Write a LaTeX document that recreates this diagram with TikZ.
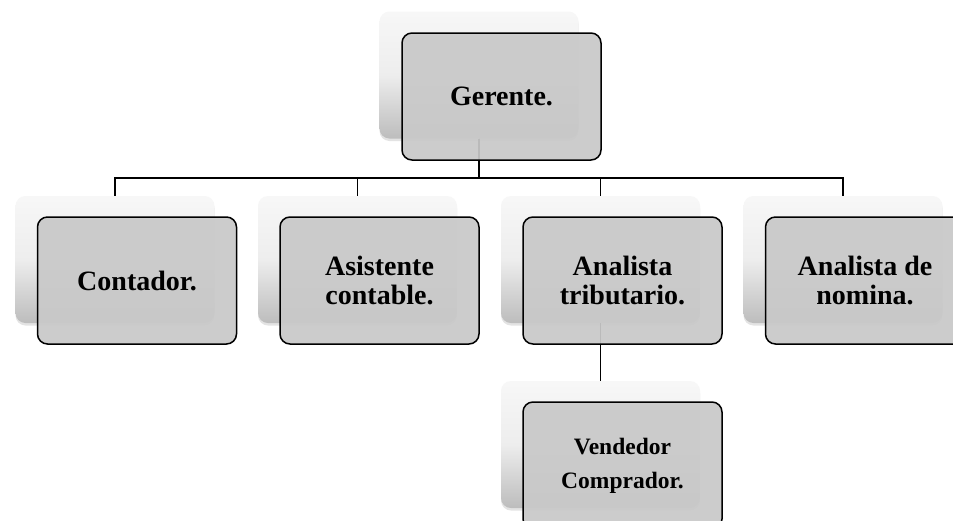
\documentclass[tikz,border=0pt]{standalone}
\usepackage{fontspec}
\setmainfont{Liberation Serif}
\usetikzlibrary{shadows}
\tikzset{
  backbox/.style={rectangle, rounded corners=10pt, minimum width=199pt, minimum height=127pt,
    inner sep=0pt, top color=black!3, bottom color=black!26, middle color=black!7,
    drop shadow={shadow xshift=0pt, shadow yshift=-2.5pt, opacity=0.22}},
  frontbox/.style={rectangle, rounded corners=10pt, minimum width=199pt, minimum height=127pt,
    inner sep=0pt, draw=black, line width=1.5pt, fill=black!21, fill opacity=0.93,
    draw opacity=1, text opacity=1, align=center, font=\fontsize{28}{29}\selectfont\bfseries},
  smalltext/.style={font=\fontsize{23.5}{34}\selectfont\bfseries},
  conn/.style={draw=black, line width=1.5pt}
}
\begin{document}
\begin{tikzpicture}[x=1pt, y=-1pt]
\useasboundingbox (0,0) rectangle (953,520);
\fill[white] (0,0) rectangle (953,520);
\coordinate (bus) at (0,178);
% back boxes
\node[backbox] (gb) at (479,75) {};
\node[backbox] (c1b) at (115,259.5) {};
\node[backbox] (c2b) at (357.5,259.5) {};
\node[backbox] (c3b) at (600.5,259.5) {};
\node[backbox] (c4b) at (843,259.5) {};
\node[backbox] (vb) at (600.5,444.5) {};
% connectors
\draw[conn] (gb.south) -- (gb.south |- bus) -| (c1b.north);
\draw[conn] (gb.south) -- (gb.south |- bus) -| (c2b.north);
\draw[conn] (gb.south) -- (gb.south |- bus) -| (c3b.north);
\draw[conn] (gb.south) -- (gb.south |- bus) -| (c4b.north);
\draw[conn] (c3b.south) -- (vb.north);
% front boxes
\node[frontbox] (g) at (501.5,96.5) {Gerente.};
\node[frontbox] (c1) at (137,280.5) {Contador.};
\node[frontbox] (c2) at (379.5,280.5) {Asistente\\contable.};
\node[frontbox] (c3) at (622.5,280.5) {Analista\\tributario.};
\node[frontbox] (c4) at (865,280.5) {Analista de\\nomina.};
\node[frontbox, smalltext] (v) at (622.5,465.5) {Vendedor\\Comprador.};
\end{tikzpicture}
\end{document}
